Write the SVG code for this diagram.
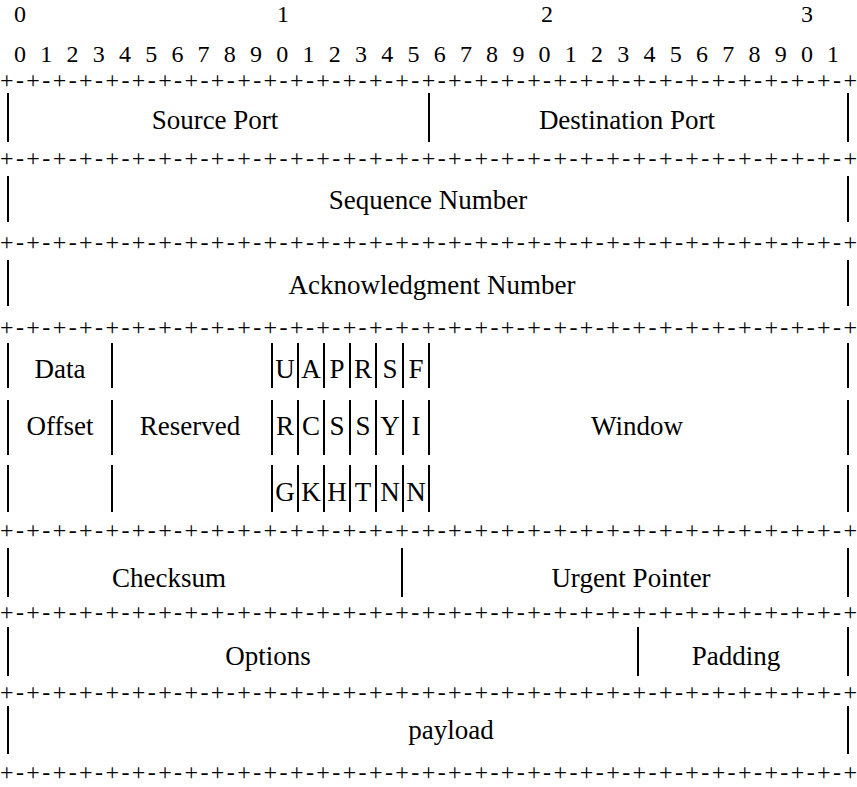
<svg xmlns="http://www.w3.org/2000/svg" width="857" height="787" viewBox="0 0 857 787" font-family="Liberation Serif, Times New Roman, DejaVu Serif, serif">
<style>
text{font-family:"Liberation Serif","Times New Roman","DejaVu Serif",serif;font-size:24px;fill:#000}
.c{text-anchor:middle}
.l{font-size:27px}
line{stroke:#000;stroke-width:2}
</style>
<rect width="857" height="787" fill="#fff"/>
<g id="ruler">
<text class="c" x="20 283 547 807" y="22">0123</text>
<text class="c" x="20 46.2 72.5 98.7 124.9 151.2 177.4 203.6 229.8 256.1 282.3 308.5 334.8 361 387.2 413.5 439.7 465.9 492.1 518.4 544.6 570.8 597.1 623.3 649.5 675.8 702 728.2 754.4 780.7 806.9 833.1" y="62">01234567890123456789012345678901</text>
</g>
<g id="separators">
<text x="0" y="88" textLength="857" lengthAdjust="spacing">+-+-+-+-+-+-+-+-+-+-+-+-+-+-+-+-+-+-+-+-+-+-+-+-+-+-+-+-+-+-+-+-+</text>
<text x="0" y="166" textLength="857" lengthAdjust="spacing">+-+-+-+-+-+-+-+-+-+-+-+-+-+-+-+-+-+-+-+-+-+-+-+-+-+-+-+-+-+-+-+-+</text>
<text x="0" y="250" textLength="857" lengthAdjust="spacing">+-+-+-+-+-+-+-+-+-+-+-+-+-+-+-+-+-+-+-+-+-+-+-+-+-+-+-+-+-+-+-+-+</text>
<text x="0" y="335" textLength="857" lengthAdjust="spacing">+-+-+-+-+-+-+-+-+-+-+-+-+-+-+-+-+-+-+-+-+-+-+-+-+-+-+-+-+-+-+-+-+</text>
<text x="0" y="538" textLength="857" lengthAdjust="spacing">+-+-+-+-+-+-+-+-+-+-+-+-+-+-+-+-+-+-+-+-+-+-+-+-+-+-+-+-+-+-+-+-+</text>
<text x="0" y="620" textLength="857" lengthAdjust="spacing">+-+-+-+-+-+-+-+-+-+-+-+-+-+-+-+-+-+-+-+-+-+-+-+-+-+-+-+-+-+-+-+-+</text>
<text x="0" y="700" textLength="857" lengthAdjust="spacing">+-+-+-+-+-+-+-+-+-+-+-+-+-+-+-+-+-+-+-+-+-+-+-+-+-+-+-+-+-+-+-+-+</text>
<text x="0" y="780" textLength="857" lengthAdjust="spacing">+-+-+-+-+-+-+-+-+-+-+-+-+-+-+-+-+-+-+-+-+-+-+-+-+-+-+-+-+-+-+-+-+</text>
</g>
<g id="bars">
<line x1="8" y1="93" x2="8" y2="142"/><line x1="429" y1="93" x2="429" y2="142"/><line x1="848" y1="93" x2="848" y2="142"/>
<line x1="8" y1="176" x2="8" y2="222"/><line x1="848" y1="176" x2="848" y2="222"/>
<line x1="8" y1="260" x2="8" y2="306"/><line x1="848" y1="260" x2="848" y2="306"/>
<line x1="8" y1="343" x2="8" y2="388"/><line x1="112" y1="343" x2="112" y2="388"/>
<line x1="8" y1="400" x2="8" y2="455"/><line x1="112" y1="400" x2="112" y2="455"/>
<line x1="8" y1="465" x2="8" y2="512"/><line x1="112" y1="465" x2="112" y2="512"/>
<line x1="848" y1="343" x2="848" y2="388"/><line x1="848" y1="400" x2="848" y2="455"/><line x1="848" y1="465" x2="848" y2="512"/>
<line x1="272" y1="343" x2="272" y2="388"/><line x1="298" y1="343" x2="298" y2="388"/><line x1="324" y1="343" x2="324" y2="388"/><line x1="350" y1="343" x2="350" y2="388"/><line x1="376" y1="343" x2="376" y2="388"/><line x1="403" y1="343" x2="403" y2="388"/><line x1="429" y1="343" x2="429" y2="388"/>
<line x1="272" y1="400" x2="272" y2="455"/><line x1="298" y1="400" x2="298" y2="455"/><line x1="324" y1="400" x2="324" y2="455"/><line x1="350" y1="400" x2="350" y2="455"/><line x1="376" y1="400" x2="376" y2="455"/><line x1="403" y1="400" x2="403" y2="455"/><line x1="429" y1="400" x2="429" y2="455"/>
<line x1="272" y1="465" x2="272" y2="512"/><line x1="298" y1="465" x2="298" y2="512"/><line x1="324" y1="465" x2="324" y2="512"/><line x1="350" y1="465" x2="350" y2="512"/><line x1="376" y1="465" x2="376" y2="512"/><line x1="403" y1="465" x2="403" y2="512"/><line x1="429" y1="465" x2="429" y2="512"/>
<line x1="8" y1="548" x2="8" y2="597"/><line x1="402" y1="548" x2="402" y2="597"/><line x1="848" y1="548" x2="848" y2="597"/>
<line x1="8" y1="627" x2="8" y2="676"/><line x1="638" y1="627" x2="638" y2="676"/><line x1="848" y1="627" x2="848" y2="676"/>
<line x1="8" y1="706" x2="8" y2="754"/><line x1="848" y1="706" x2="848" y2="754"/>
</g>
<g id="labels">
<text class="c l" x="215" y="129">Source Port</text>
<text class="c l" x="627" y="129">Destination Port</text>
<text class="c l" x="428" y="209">Sequence Number</text>
<text class="c l" x="432" y="294">Acknowledgment Number</text>
<text class="c l" x="60" y="378">Data</text>
<text class="c l" x="60" y="435">Offset</text>
<text class="c l" x="190" y="435">Reserved</text>
<text class="c l" x="637" y="435">Window</text>
<text class="c l" x="285 311 337 363 390 416" y="378">UAPRSF</text>
<text class="c l" x="285 311 337 363 390 416" y="435">RCSSYI</text>
<text class="c l" x="285 311 337 363 390 416" y="501">GKHTNN</text>
<text class="c l" x="169" y="587">Checksum</text>
<text class="c l" x="631" y="587">Urgent Pointer</text>
<text class="c l" x="268" y="665">Options</text>
<text class="c l" x="736" y="665">Padding</text>
<text class="c l" x="451" y="739">payload</text>
</g>
</svg>
